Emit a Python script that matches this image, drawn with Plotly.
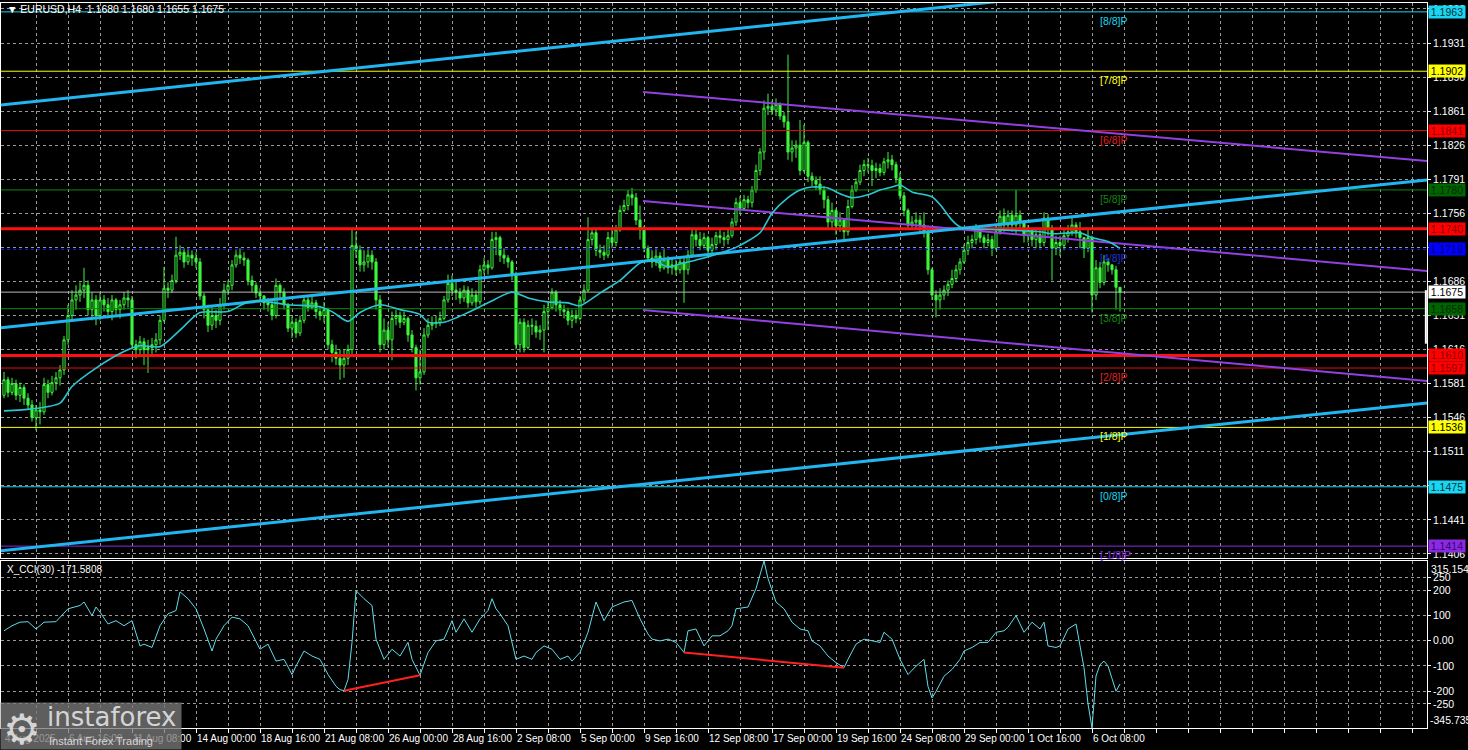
import plotly.graph_objects as go

# ------------------------------------------------------------------ data
symbol_title = "\u25BC EURUSD,H4  1.1680 1.1680 1.1655 1.1675"
cci_title = "X_CCI(30) -171.5808"

first_open = 1.1569
close = [
    1.1585, 1.1572, 1.1581, 1.1569, 1.1577, 1.1566,
    1.1559, 1.1546, 1.1554, 1.1552, 1.1580, 1.1572,
    1.1582, 1.1587, 1.1595, 1.1626, 1.1651, 1.1667,
    1.1672, 1.1677, 1.1682, 1.1657, 1.1667, 1.1651,
    1.1667, 1.1662, 1.1655, 1.1667, 1.1657, 1.1662,
    1.1669, 1.1667, 1.1621, 1.1616, 1.1624, 1.1616,
    1.1618, 1.1621, 1.1626, 1.1646, 1.1679, 1.1677,
    1.1687, 1.1713, 1.1716, 1.1706, 1.1713, 1.1710,
    1.1706, 1.1671, 1.1657, 1.1641, 1.1651, 1.1646,
    1.1662, 1.1677, 1.1682, 1.1703, 1.1713, 1.1710,
    1.1708, 1.1687, 1.1682, 1.1674, 1.1671, 1.1664,
    1.1662, 1.1651, 1.1682, 1.1675, 1.1662, 1.1638,
    1.1644, 1.1633, 1.1646, 1.1667, 1.1659, 1.1664,
    1.1655, 1.1651, 1.1657, 1.1621, 1.1613, 1.1607,
    1.1600, 1.1607, 1.1616, 1.1723, 1.1718, 1.1703,
    1.1706, 1.1713, 1.1706, 1.1667, 1.1621, 1.1636,
    1.1626, 1.1648, 1.1651, 1.1644, 1.1648, 1.1631,
    1.1618, 1.1587, 1.1593, 1.1631, 1.1641, 1.1643,
    1.1644, 1.1648, 1.1667, 1.1684, 1.1677, 1.1675,
    1.1669, 1.1677, 1.1664, 1.1672, 1.1665, 1.1698,
    1.1703, 1.1700, 1.1729, 1.1731, 1.1713, 1.1710,
    1.1706, 1.1693, 1.1621, 1.1644, 1.1618, 1.1641,
    1.1640, 1.1634, 1.1636, 1.1655, 1.1659, 1.1675,
    1.1662, 1.1657, 1.1655, 1.1646, 1.1651, 1.1648,
    1.1667, 1.1677, 1.1729, 1.1736, 1.1718, 1.1716,
    1.1713, 1.1731, 1.1726, 1.1739, 1.1759, 1.1764,
    1.1775, 1.1772, 1.1749, 1.1739, 1.1720, 1.1710,
    1.1706, 1.1712, 1.1700, 1.1708, 1.1700, 1.1703,
    1.1698, 1.1706, 1.1698, 1.1713, 1.1734, 1.1729,
    1.1723, 1.1731, 1.1718, 1.1724, 1.1733, 1.1731,
    1.1729, 1.1733, 1.1747, 1.1767, 1.1761, 1.1770,
    1.1767, 1.1780, 1.1800, 1.1819, 1.1864, 1.1866,
    1.1862, 1.1868, 1.1856, 1.1850, 1.1819, 1.1823,
    1.1826, 1.1800, 1.1829, 1.1794, 1.1790, 1.1786,
    1.1780, 1.1770, 1.1747, 1.1759, 1.1743, 1.1749,
    1.1737, 1.1763, 1.1780, 1.1788, 1.1800, 1.1806,
    1.1805, 1.1800, 1.1802, 1.1798, 1.1809, 1.1811,
    1.1806, 1.1792, 1.1774, 1.1759, 1.1744, 1.1747,
    1.1749, 1.1744, 1.1737, 1.1698, 1.1672, 1.1667,
    1.1672, 1.1677, 1.1683, 1.1689, 1.1698, 1.1706,
    1.1718, 1.1726, 1.1729, 1.1739, 1.1731, 1.1726,
    1.1729, 1.1720, 1.1737, 1.1753, 1.1744, 1.1754,
    1.1744, 1.1754, 1.1747, 1.1733, 1.1739, 1.1729,
    1.1734, 1.1726, 1.1751, 1.1741, 1.1720, 1.1726,
    1.1723, 1.1733, 1.1737, 1.1744, 1.1737, 1.1731,
    1.1720, 1.1731, 1.1672, 1.1700, 1.1685, 1.1706,
    1.1703, 1.1698, 1.1680, 1.1675,
]
high = [
    1.1593, 1.1588, 1.1587, 1.1585, 1.1582, 1.1580,
    1.1571, 1.1564, 1.1559, 1.1562, 1.1587, 1.1585,
    1.1589, 1.1593, 1.1600, 1.1630, 1.1662, 1.1677,
    1.1682, 1.1685, 1.1700, 1.1687, 1.1675, 1.1672,
    1.1674, 1.1672, 1.1669, 1.1672, 1.1669, 1.1667,
    1.1675, 1.1677, 1.1671, 1.1626, 1.1630, 1.1628,
    1.1626, 1.1628, 1.1633, 1.1651, 1.1701, 1.1685,
    1.1693, 1.1732, 1.1723, 1.1720, 1.1720, 1.1718,
    1.1716, 1.1710, 1.1674, 1.1662, 1.1662, 1.1657,
    1.1669, 1.1684, 1.1687, 1.1708, 1.1718, 1.1720,
    1.1716, 1.1710, 1.1692, 1.1685, 1.1679, 1.1672,
    1.1669, 1.1667, 1.1689, 1.1684, 1.1679, 1.1664,
    1.1650, 1.1648, 1.1651, 1.1672, 1.1670, 1.1671,
    1.1667, 1.1661, 1.1665, 1.1659, 1.1626, 1.1621,
    1.1616, 1.1616, 1.1621, 1.1741, 1.1737, 1.1723,
    1.1718, 1.1720, 1.1718, 1.1710, 1.1672, 1.1648,
    1.1644, 1.1655, 1.1657, 1.1655, 1.1655, 1.1650,
    1.1636, 1.1621, 1.1616, 1.1638, 1.1648, 1.1650,
    1.1651, 1.1655, 1.1671, 1.1693, 1.1692, 1.1687,
    1.1679, 1.1682, 1.1681, 1.1679, 1.1677, 1.1703,
    1.1710, 1.1708, 1.1737, 1.1737, 1.1733, 1.1720,
    1.1713, 1.1708, 1.1696, 1.1648, 1.1648, 1.1646,
    1.1648, 1.1646, 1.1641, 1.1662, 1.1665, 1.1679,
    1.1677, 1.1667, 1.1662, 1.1659, 1.1657, 1.1657,
    1.1671, 1.1683, 1.1752, 1.1741, 1.1739, 1.1724,
    1.1723, 1.1737, 1.1741, 1.1744, 1.1764, 1.1770,
    1.1780, 1.1782, 1.1777, 1.1764, 1.1743, 1.1723,
    1.1718, 1.1720, 1.1716, 1.1720, 1.1712, 1.1710,
    1.1708, 1.1710, 1.1710, 1.1718, 1.1739, 1.1741,
    1.1737, 1.1736, 1.1733, 1.1731, 1.1737, 1.1739,
    1.1737, 1.1739, 1.1751, 1.1772, 1.1774, 1.1775,
    1.1774, 1.1784, 1.1806, 1.1823, 1.1872, 1.1879,
    1.1872, 1.1874, 1.1870, 1.1860, 1.1919, 1.1831,
    1.1831, 1.1852, 1.1847, 1.1831, 1.1798, 1.1794,
    1.1794, 1.1784, 1.1774, 1.1767, 1.1761, 1.1757,
    1.1751, 1.1770, 1.1785, 1.1792, 1.1806, 1.1811,
    1.1813, 1.1811, 1.1808, 1.1807, 1.1813, 1.1819,
    1.1816, 1.1809, 1.1798, 1.1778, 1.1761, 1.1753,
    1.1757, 1.1754, 1.1757, 1.1739, 1.1700, 1.1677,
    1.1679, 1.1682, 1.1687, 1.1698, 1.1703, 1.1710,
    1.1724, 1.1733, 1.1734, 1.1745, 1.1743, 1.1734,
    1.1735, 1.1733, 1.1743, 1.1759, 1.1761, 1.1759,
    1.1759, 1.1780, 1.1759, 1.1749, 1.1744, 1.1741,
    1.1741, 1.1739, 1.1757, 1.1755, 1.1744, 1.1733,
    1.1733, 1.1741, 1.1744, 1.1751, 1.1747, 1.1747,
    1.1731, 1.1739, 1.1733, 1.1708, 1.1706, 1.1713,
    1.1710, 1.1704, 1.1702, 1.1680,
]
low = [
    1.1566, 1.1567, 1.1569, 1.1564, 1.1562, 1.1559,
    1.1554, 1.1542, 1.1533, 1.1539, 1.1549, 1.1566,
    1.1569, 1.1574, 1.1579, 1.1590, 1.1621, 1.1646,
    1.1657, 1.1665, 1.1669, 1.1651, 1.1646, 1.1641,
    1.1646, 1.1655, 1.1648, 1.1646, 1.1650, 1.1648,
    1.1657, 1.1659, 1.1616, 1.1607, 1.1610, 1.1600,
    1.1592, 1.1610, 1.1613, 1.1621, 1.1644, 1.1669,
    1.1674, 1.1684, 1.1708, 1.1700, 1.1703, 1.1702,
    1.1700, 1.1667, 1.1648, 1.1634, 1.1636, 1.1638,
    1.1641, 1.1657, 1.1672, 1.1677, 1.1700, 1.1704,
    1.1702, 1.1682, 1.1675, 1.1669, 1.1665, 1.1657,
    1.1655, 1.1646, 1.1648, 1.1669, 1.1657, 1.1634,
    1.1628, 1.1628, 1.1630, 1.1643, 1.1655, 1.1657,
    1.1648, 1.1646, 1.1644, 1.1616, 1.1603, 1.1600,
    1.1585, 1.1587, 1.1600, 1.1610, 1.1710, 1.1696,
    1.1696, 1.1700, 1.1698, 1.1657, 1.1613, 1.1616,
    1.1618, 1.1605, 1.1641, 1.1638, 1.1641, 1.1624,
    1.1613, 1.1574, 1.1580, 1.1590, 1.1628, 1.1636,
    1.1638, 1.1640, 1.1646, 1.1664, 1.1671, 1.1667,
    1.1663, 1.1665, 1.1659, 1.1661, 1.1659, 1.1662,
    1.1693, 1.1693, 1.1698, 1.1713, 1.1706, 1.1704,
    1.1700, 1.1687, 1.1616, 1.1613, 1.1613, 1.1616,
    1.1631, 1.1628, 1.1626, 1.1613, 1.1636, 1.1657,
    1.1655, 1.1651, 1.1648, 1.1641, 1.1638, 1.1643,
    1.1646, 1.1664, 1.1675, 1.1723, 1.1712, 1.1710,
    1.1708, 1.1710, 1.1720, 1.1722, 1.1737, 1.1757,
    1.1759, 1.1764, 1.1744, 1.1729, 1.1716, 1.1706,
    1.1700, 1.1702, 1.1696, 1.1698, 1.1694, 1.1693,
    1.1692, 1.1694, 1.1664, 1.1693, 1.1710, 1.1722,
    1.1718, 1.1720, 1.1713, 1.1713, 1.1718, 1.1725,
    1.1722, 1.1724, 1.1731, 1.1743, 1.1755, 1.1759,
    1.1761, 1.1762, 1.1777, 1.1795, 1.1811, 1.1857,
    1.1857, 1.1856, 1.1852, 1.1844, 1.1811, 1.1809,
    1.1813, 1.1795, 1.1798, 1.1788, 1.1784, 1.1780,
    1.1775, 1.1761, 1.1741, 1.1739, 1.1734, 1.1737,
    1.1729, 1.1733, 1.1761, 1.1778, 1.1785, 1.1794,
    1.1798, 1.1784, 1.1792, 1.1794, 1.1795, 1.1802,
    1.1800, 1.1787, 1.1770, 1.1753, 1.1739, 1.1739,
    1.1741, 1.1737, 1.1731, 1.1693, 1.1667, 1.1649,
    1.1657, 1.1667, 1.1671, 1.1679, 1.1685, 1.1693,
    1.1704, 1.1713, 1.1720, 1.1724, 1.1726, 1.1720,
    1.1722, 1.1712, 1.1718, 1.1734, 1.1737, 1.1739,
    1.1737, 1.1735, 1.1741, 1.1726, 1.1726, 1.1722,
    1.1720, 1.1720, 1.1722, 1.1733, 1.1687, 1.1713,
    1.1712, 1.1718, 1.1726, 1.1733, 1.1731, 1.1720,
    1.1710, 1.1716, 1.1654, 1.1667, 1.1679, 1.1682,
    1.1696, 1.1693, 1.1657, 1.1655,
]

# moving average
ma_bars = [0, 7, 14, 17, 23, 30, 34, 39, 44, 49, 56, 61, 66, 71, 79, 82, 86, 89, 94, 99,
           104, 106, 110, 116, 121, 127, 131, 136, 141, 144, 149, 154, 159, 162, 166, 169,
           174, 179, 183, 189, 192, 196, 199, 202, 206, 209, 212, 216, 219, 222, 224, 227,
           232, 234, 237, 239, 242, 249, 259, 262, 269, 272, 276, 279]
ma_vals = [1.1553, 1.1555, 1.1561, 1.1578, 1.1597, 1.1614, 1.1620, 1.1619, 1.1636, 1.1654,
           1.1655, 1.1665, 1.1665, 1.1662, 1.1660, 1.1655, 1.1645, 1.1654, 1.1662, 1.1657,
           1.1652, 1.1644, 1.1644, 1.1654, 1.1664, 1.1675, 1.1669, 1.1665, 1.1664, 1.1661,
           1.1674, 1.1687, 1.1705, 1.1708, 1.1701, 1.1704, 1.1709, 1.1715, 1.1721, 1.1736,
           1.1756, 1.1772, 1.1780, 1.1783, 1.1782, 1.1776, 1.1772, 1.1775, 1.1780, 1.1783,
           1.1785, 1.1778, 1.1773, 1.1765, 1.1749, 1.1742, 1.1740, 1.1739, 1.1737, 1.1735,
           1.1736, 1.1731, 1.1727, 1.1720]

# CCI(30)
cci_bars = [0, 2, 4, 6, 8, 10, 13, 14, 16, 19, 20, 22, 23, 24, 26, 28, 30, 32, 34, 35,
            37, 39, 41, 43, 44, 46, 48, 50, 52, 53, 55, 57, 59, 61, 63, 64, 66, 68, 70, 72,
            73, 75, 77, 79, 81, 83, 84, 85, 86, 87, 88, 90, 92, 93, 95, 97, 99, 101, 102, 104,
            106, 108, 110, 112, 113, 115, 117, 119, 121, 122, 123, 124, 126, 128, 130, 132, 133, 135, 137, 139,
            141, 142, 144, 146, 148, 150, 152, 153, 155, 157, 159, 161, 162, 164, 166, 168, 170, 171, 173, 175,
            177, 179, 181, 182, 183, 186, 188, 190, 191, 193, 195, 197, 199, 201, 202, 204, 206, 208, 210, 211,
            213, 215, 217, 219, 220, 222, 224, 226, 228, 230, 231, 232, 233, 235, 237, 239, 240, 242, 244, 246,
            248, 250, 251, 253, 255, 257, 259, 260, 261, 263, 264, 266, 268, 270, 271, 272, 273, 274, 275, 276,
            277, 278, 279]
cci_vals = [39, 59, 73, 75, 46, 73, 75, 93, 126, 139, 153, 99, 133, 113, 66, 79, 59, 79, -21, -14,
            -27, 59, 106, 119, 193, 166, 126, 46, -41, 6, 59, 93, 86, 59, -7, -34, -14, -81, -74, -134,
            -101, -41, -61, -74, -134, -181, -194, -198, -154, -7, 198, 166, 139, 6, -74, -34, -61, -7, -74, -137,
            -47, -1, 6, 79, 33, 86, 33, 86, 119, 166, 126, 106, 59, -74, -61, -74, -47, -21, -34, -74,
            -61, -81, -47, 33, 153, 79, 133, 139, 153, 159, 86, 26, 6, -1, 6, -7, -47, 39, 46, -21,
            19, 19, 39, 59, 126, 133, 206, 315.1542, 246, 153, 126, 73, 46, 39, -1, -21, -61, -87, -107, -74,
            -14, 6, -1, -7, 33, 6, -74, -134, -101, -74, -181, -227, -201, -141, -114, -74, -41, -27, -7, -7,
            33, 39, 53, 99, 33, 73, 46, 73, -21, -27, -21, 46, 66, -107, -250, -345.7358, -140, -95, -81, -100,
            -150, -200, -171.5808]
cci_min, cci_max = -345.7358, 315.1542
cci_tick_vals = [-250, -200, -100, 0, 100, 200, 250]
cci_tick_text = ["-250", "-200", "-100", "0.00", "100", "200", "250"]

# divergence lines on CCI
div1_bars, div1_vals = [85, 104], [-198, -137]
div2_bars, div2_vals = [170, 210], [-47, -107]

# time axis labels (H4 bars counted from 4 Aug 2025 00:00)
time_label_bars = [0, 16, 32, 48, 64, 80, 96, 112, 128, 144, 160, 176, 192, 208, 224, 240, 256, 272]
time_labels = ["4 Aug 2025", "6 Aug 16:00", "11 Aug 08:00", "14 Aug 00:00", "18 Aug 16:00",
               "21 Aug 08:00", "26 Aug 00:00", "28 Aug 16:00", "2 Sep 08:00", "5 Sep 00:00",
               "9 Sep 16:00", "12 Sep 08:00", "17 Sep 00:00", "19 Sep 16:00", "24 Sep 08:00",
               "29 Sep 00:00", "1 Oct 16:00", "6 Oct 08:00"]

price_ticks = [1.1406, 1.1441, 1.1476, 1.1511, 1.1546, 1.1581, 1.1616, 1.1651, 1.1686,
               1.1721, 1.1756, 1.1791, 1.1826, 1.1861, 1.1896, 1.1931, 1.1966]

# Murrey math levels
murrey_levels = [1.1963, 1.1902, 1.1841, 1.1780, 1.1719, 1.1658, 1.1597, 1.1536, 1.1475, 1.1414]
murrey_tags = ["[8/8]P", "[7/8]P", "[6/8]P", "[5/8]P", "[4/8]P", "[3/8]P", "[2/8]P", "[1/8]P", "[0/8]P", "[-1/8]P"]
murrey_tag_bar = 273.5

# support / resistance and current price
sr_levels = [1.1740, 1.1610]
current_price = 1.1675
spread_marker = [1.1622, 1.1677]

# linear regression channel (cyan) and channel (purple): [start, end] points
cyan_bars = [-1.0, 355.75]
cyan_top = [1.18673, 1.20194]
cyan_mid = [1.16382, 1.17902]
cyan_bot = [1.14091, 1.15611]
purple_bars = [159.75, 355.75]
purple_top = [1.18807, 1.18098]
purple_mid = [1.17687, 1.16968]
purple_bot = [1.16567, 1.15837]

# price-scale tags on the right
tag_levels = [1.1963, 1.1902, 1.1841, 1.1780, 1.1740, 1.1719, 1.1675, 1.1658, 1.1610, 1.1597, 1.1536, 1.1475, 1.1414]

# ------------------------------------------------------------------ styles
BG = "#000000"
LIME = "#3cf53c"
GRID = "#9a9a9a"
FONT = "Tahoma, 'Liberation Sans', Arial, sans-serif"
CYAN_L = "#1ad6f2"
murrey_colors = [CYAN_L, "#ffff00", "#e01010", "#0a8a0a", "#1a1aff", "#0a8a0a", "#e01010", "#ffff00", CYAN_L, "#8a2be2"]
murrey_dash = ["solid", "solid", "solid", "solid", "3px,3px", "solid", "solid", "solid", "solid", "solid"]
murrey_text_colors = [CYAN_L, "#ffff00", "#e02020", "#108a10", "#2030d0", "#108a10", "#e02020", "#ffff00", CYAN_L, "#8a2be2"]
tag_bg = [CYAN_L, "#ffff00", "#ff0000", "#006400", "#ff0000", "#0000ff", "#ffffff", "#006400",
          "#ff0000", "#ff0000", "#ffff00", CYAN_L, "#8a2be2"]
tag_fg = ["#00323a", "#000000", "#8a0000", "#002a00", "#8a0000", "#00006a", "#000000", "#002a00",
          "#8a0000", "#8a0000", "#000000", "#00323a", "#3a0070"]

X0, X1 = -0.75, 355.75
Y0, Y1 = 1.14018, 1.19721

bars = list(range(len(close)))
opens = [first_open] + close[:-1]

fig = go.Figure()

# candles
fig.add_trace(go.Candlestick(
    x=bars, open=opens, high=high, low=low, close=close,
    increasing=dict(line=dict(color=LIME, width=1), fillcolor=BG),
    decreasing=dict(line=dict(color=LIME, width=1), fillcolor=LIME),
    whiskerwidth=0, hoverinfo="skip", showlegend=False, xaxis="x", yaxis="y"))

# Murrey lines
for lvl, col, dsh in zip(murrey_levels, murrey_colors, murrey_dash):
    fig.add_trace(go.Scatter(x=[X0, X1], y=[lvl, lvl], mode="lines",
                             line=dict(color=col, width=1, dash=dsh),
                             hoverinfo="skip", showlegend=False, xaxis="x", yaxis="y"))
# current price line
fig.add_trace(go.Scatter(x=[X0, X1], y=[current_price, current_price], mode="lines",
                         line=dict(color="#b8b8b8", width=1), hoverinfo="skip",
                         showlegend=False, xaxis="x", yaxis="y"))
# thick support / resistance
for lvl in sr_levels:
    fig.add_trace(go.Scatter(x=[X0, X1], y=[lvl, lvl], mode="lines",
                             line=dict(color="#ff1010", width=3),
                             hoverinfo="skip", showlegend=False, xaxis="x", yaxis="y"))
# purple channel
for ys in (purple_top, purple_mid, purple_bot):
    fig.add_trace(go.Scatter(x=purple_bars, y=ys, mode="lines",
                             line=dict(color="#9340e0", width=2),
                             hoverinfo="skip", showlegend=False, xaxis="x", yaxis="y"))
# cyan channel
for ys in (cyan_top, cyan_mid, cyan_bot):
    fig.add_trace(go.Scatter(x=cyan_bars, y=ys, mode="lines",
                             line=dict(color="#22b6f0", width=3),
                             hoverinfo="skip", showlegend=False, xaxis="x", yaxis="y"))
# moving average
fig.add_trace(go.Scatter(x=ma_bars, y=ma_vals, mode="lines",
                         line=dict(color="#2cc6d2", width=1.6, shape="spline", smoothing=0.7),
                         hoverinfo="skip", showlegend=False, xaxis="x", yaxis="y"))

# CCI panel
fig.add_trace(go.Scatter(x=cci_bars, y=cci_vals, mode="lines",
                         line=dict(color="#62dcea", width=1),
                         hoverinfo="skip", showlegend=False, xaxis="x2", yaxis="y2"))
for bx, vy in ((div1_bars, div1_vals), (div2_bars, div2_vals)):
    fig.add_trace(go.Scatter(x=bx, y=vy, mode="lines",
                             line=dict(color="#ff2020", width=2),
                             hoverinfo="skip", showlegend=False, xaxis="x2", yaxis="y2"))

# spread marker at right edge
fig.add_shape(type="line", xref="paper", yref="y", x0=0.9992, x1=0.9992,
              y0=spread_marker[0], y1=spread_marker[1], line=dict(color="#ffffff", width=2))

grid_bars = list(range(8, 356, 8))

axis_common = dict(showline=True, mirror=True, linecolor="#ffffff", linewidth=1,
                   zeroline=False, gridcolor=GRID, griddash="3px,3px", gridwidth=1)

fig.update_layout(
    width=1468, height=750,
    margin=dict(l=1, r=41, t=3, b=22, pad=0),
    paper_bgcolor=BG, plot_bgcolor=BG,
    showlegend=False, boxgap=0.25,
    font=dict(family=FONT, color="#ffffff", size=10),
    xaxis=dict(domain=[0, 1], range=[X0, X1], anchor="y", tickvals=grid_bars,
               showticklabels=False, ticks="", showgrid=True,
               rangeslider=dict(visible=False), **axis_common),
    yaxis=dict(domain=[0.23448, 1], range=[Y0, Y1], anchor="x", side="right",
               tickvals=price_ticks, ticktext=["%.4f" % v for v in price_ticks],
               ticks="outside", ticklen=3, tickcolor="#ffffff", showgrid=True,
               tickfont=dict(family=FONT, size=10.5, color="#ffffff"), **axis_common),
    xaxis2=dict(domain=[0, 1], range=[X0, X1], anchor="y2", tickvals=grid_bars,
                showticklabels=False, ticks="outside", ticklen=4, tickcolor="#ffffff",
                showgrid=True, **axis_common),
    yaxis2=dict(domain=[0, 0.23034], range=[cci_min, cci_max], anchor="x2", side="right",
                tickvals=cci_tick_vals, ticktext=cci_tick_text,
                ticks="outside", ticklen=3, tickcolor="#ffffff", showgrid=True,
                tickfont=dict(family=FONT, size=10.5, color="#ffffff"), **axis_common),
)

ann = []
# title & indicator label
ann.append(dict(text=symbol_title, xref="paper", yref="paper", x=0.003, y=0.9917,
                xanchor="left", yanchor="middle", showarrow=False,
                font=dict(family=FONT, size=10.5, color="#ffffff")))
ann.append(dict(text=cci_title, xref="paper", yref="paper", x=0.003, y=0.2180,
                xanchor="left", yanchor="middle", showarrow=False,
                font=dict(family=FONT, size=10, color="#ffffff")))
# Murrey tags on chart
for lvl, tag, col in zip(murrey_levels, murrey_tags, murrey_text_colors):
    ann.append(dict(text=tag, xref="x", yref="y", x=murrey_tag_bar, y=lvl,
                    xanchor="left", yanchor="top", showarrow=False, yshift=-1,
                    font=dict(family=FONT, size=10.5, color=col)))
# price tags on the right scale
for lvl, bg, fg in zip(tag_levels, tag_bg, tag_fg):
    ann.append(dict(text="%.4f" % lvl, xref="paper", yref="y", x=1, y=lvl,
                    xanchor="left", yanchor="middle", xshift=1, showarrow=False,
                    bgcolor=bg, width=36, height=12, borderpad=0, align="center",
                    font=dict(family=FONT, size=10.5, color=fg)))
# CCI scale extremes
ann.append(dict(text="%.4f" % cci_max, xref="paper", yref="y2", x=1, y=cci_max,
                xanchor="left", yanchor="top", xshift=2, showarrow=False,
                font=dict(family=FONT, size=10.5, color="#ffffff")))
ann.append(dict(text="%.4f" % cci_min, xref="paper", yref="y2", x=1, y=cci_min,
                xanchor="left", yanchor="bottom", xshift=1, showarrow=False,
                font=dict(family=FONT, size=10.5, color="#ffffff")))
# time labels
for b, t in zip(time_label_bars, time_labels):
    ann.append(dict(text=t, xref="x2", yref="paper", x=b, y=-0.0145,
                    xanchor="left", yanchor="middle", xshift=-1, showarrow=False,
                    font=dict(family=FONT, size=10, color="#ffffff")))
# watermark
ann.append(dict(text="", xref="paper", yref="paper", x=-0.0008, y=-0.0305,
                xanchor="left", yanchor="bottom", showarrow=False,
                bgcolor="rgba(120,120,120,0.78)", width=180, height=46, borderpad=0))
ann.append(dict(text="\u2699", xref="paper", yref="paper", x=0.0145, y=-0.0015,
                xanchor="center", yanchor="middle", showarrow=False,
                font=dict(family="DejaVu Sans", size=42, color="rgba(225,225,225,0.92)")))
ann.append(dict(text="instaforex", xref="paper", yref="paper", x=0.031, y=0.0145,
                xanchor="left", yanchor="middle", showarrow=False,
                font=dict(family="DejaVu Sans", size=26, color="rgba(225,225,225,0.92)")))
ann.append(dict(text="Instant Forex Trading", xref="paper", yref="paper", x=0.032, y=-0.0175,
                xanchor="left", yanchor="middle", showarrow=False,
                font=dict(family="'Liberation Sans', Arial", size=11, color="rgba(225,225,225,0.92)")))

fig.update_layout(annotations=ann)
fig.write_html("out.html",
               config={"displayModeBar": False, "staticPlot": True},
               post_script="document.body.style.margin='0';document.body.style.overflow='hidden';")
